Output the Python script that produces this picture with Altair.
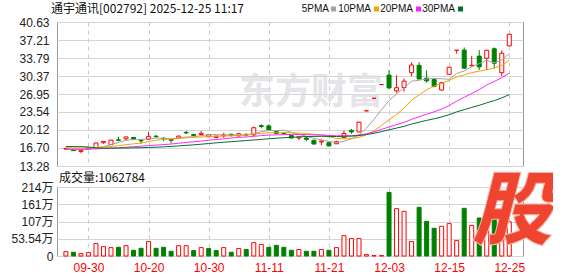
import altair as alt
import pandas as pd

# ---------------- data ----------------
dates = ["09-25", "09-26", "09-29", "09-30", "10-09", "10-10", "10-13", "10-14", "10-15", "10-16",
         "10-17", "10-20", "10-21", "10-22", "10-23", "10-24", "10-27", "10-28", "10-29", "10-30",
         "10-31", "11-03", "11-04", "11-05", "11-06", "11-07", "11-10", "11-11", "11-12", "11-13",
         "11-14", "11-17", "11-18", "11-19", "11-20", "11-21", "11-24", "11-25", "11-26", "11-27",
         "11-28", "12-01", "12-02", "12-03", "12-04", "12-05", "12-08", "12-09", "12-10", "12-11",
         "12-12", "12-15", "12-16", "12-17", "12-18", "12-19", "12-22", "12-23", "12-24", "12-25"]

opens = [16.50, 16.40, 16.05, 16.50, 16.72, 17.70, 17.35, 18.25, 18.45, 18.70,
         18.15, 18.35, 18.95, 18.55, 18.35, 18.55, 19.65, 19.25, 19.25, 18.85,
         18.70, 19.00, 19.30, 19.00, 19.30, 19.20, 20.95, 20.90, 19.80, 19.50,
         19.05, 18.60, 18.60, 18.15, 17.85, 17.70, 17.50, 18.70, 20.05, 19.75,
         23.76, 26.14, 28.75, 30.55, 27.55, 28.20, 31.00, 32.40, 29.95, 29.70,
         27.70, 30.70, 35.26, 35.30, 32.30, 34.15, 33.75, 35.55, 31.00, 36.10]
closes = [16.62, 16.20, 16.20, 16.75, 17.65, 17.95, 18.20, 18.15, 18.80, 18.40,
          18.05, 18.85, 18.85, 18.45, 18.15, 18.95, 19.55, 19.05, 19.50, 19.20,
          18.95, 19.20, 19.05, 19.40, 19.15, 20.55, 20.80, 20.15, 19.45, 19.45,
          18.60, 18.80, 18.35, 17.45, 18.00, 17.10, 17.90, 19.45, 19.75, 21.60,
          23.76, 26.14, 28.75, 28.10, 28.15, 29.40, 32.45, 29.80, 29.45, 28.40,
          29.10, 32.05, 35.26, 31.85, 32.40, 32.10, 35.25, 32.80, 34.70, 38.30]
highs = [16.75, 16.50, 16.25, 16.85, 17.70, 18.00, 18.25, 18.85, 18.85, 18.80,
         18.45, 19.80, 19.15, 18.75, 18.40, 19.10, 19.95, 19.35, 19.90, 19.30,
         19.00, 19.60, 19.40, 19.60, 19.45, 20.75, 21.20, 21.20, 19.90, 19.70,
         19.15, 18.85, 18.80, 18.30, 18.30, 17.80, 18.10, 19.95, 20.30, 21.70,
         23.76, 26.14, 28.75, 31.50, 30.50, 29.90, 33.00, 33.00, 31.45, 29.80,
         29.20, 32.10, 35.26, 35.80, 34.20, 35.30, 35.30, 35.80, 35.25, 38.30]
lows = [16.40, 16.15, 15.70, 16.40, 16.60, 17.50, 17.30, 18.00, 18.20, 18.25,
        17.50, 18.25, 18.65, 18.00, 17.55, 18.45, 19.40, 18.95, 19.00, 18.80,
        18.50, 18.66, 18.90, 18.90, 18.90, 18.90, 20.44, 19.93, 19.30, 19.30,
        18.50, 18.15, 18.00, 17.35, 17.20, 17.00, 17.45, 18.60, 19.40, 19.70,
        23.76, 26.14, 28.75, 28.00, 27.20, 27.40, 30.35, 29.70, 29.10, 28.20,
        27.60, 30.60, 34.60, 31.80, 32.20, 31.50, 31.50, 31.85, 30.40, 36.05]
volumes = [13.6, 11.5, 7.4, 10.5, 38.5, 29.0, 26.0, 27.0, 32.0, 17.7,
           24.0, 44.7, 24.0, 27.0, 14.6, 32.0, 32.0, 16.8, 26.0, 23.0,
           16.8, 26.0, 11.5, 23.0, 20.0, 41.6, 36.0, 27.0, 33.0, 27.0,
           17.7, 20.0, 14.6, 14.6, 20.0, 17.7, 26.0, 63.0, 54.0, 54.0,
           4.3, 1.3, 1.3, 197.5, 147.0, 138.6, 44.7, 151.0, 107.6, 86.0,
           92.0, 100.5, 47.8, 148.0, 95.0, 118.0, 128.0, 120.0, 141.0, 106.28]

ma5 = [16.55, 16.45, 16.40, 16.48, 16.68, 16.95, 17.35, 17.74, 18.15, 18.30,
       18.32, 18.45, 18.59, 18.52, 18.47, 18.65, 18.79, 18.83, 19.04, 19.25,
       19.25, 19.18, 19.18, 19.16, 19.15, 19.47, 19.79, 20.01, 20.02, 20.08,
       19.69, 19.29, 18.93, 18.53, 18.24, 17.94, 17.76, 17.98, 18.44, 19.16,
       20.49, 22.14, 24.00, 25.67, 26.97, 28.12, 29.38, 29.57, 29.82, 29.90,
       29.84, 29.76, 30.85, 31.33, 32.13, 32.73, 33.37, 32.88, 33.45, 34.63]
ma10 = [16.75, 16.72, 16.70, 16.72, 16.78, 16.88, 17.00, 17.15, 17.32, 17.49,
        17.64, 17.90, 18.17, 18.34, 18.39, 18.49, 18.62, 18.71, 18.78, 18.86,
        18.95, 18.99, 19.01, 19.10, 19.20, 19.36, 19.49, 19.60, 19.59, 19.62,
        19.58, 19.54, 19.47, 19.28, 19.16, 18.82, 18.53, 18.46, 18.49, 18.70,
        19.22, 19.95, 20.99, 22.06, 23.08, 24.31, 25.76, 26.79, 27.76, 28.44,
        28.97, 29.56, 30.21, 30.58, 31.02, 31.29, 31.57, 31.87, 32.39, 33.38]
ma20 = [16.45, 16.45, 16.47, 16.50, 16.55, 16.60, 16.65, 16.75, 16.85, 16.95,
        17.05, 17.15, 17.25, 17.35, 17.45, 17.60, 17.75, 17.88, 18.02, 18.18,
        18.29, 18.44, 18.59, 18.72, 18.79, 18.92, 19.05, 19.15, 19.19, 19.24,
        19.27, 19.26, 19.24, 19.19, 19.18, 19.09, 19.01, 19.03, 19.04, 19.16,
        19.40, 19.75, 20.23, 20.70, 21.12, 21.57, 22.14, 22.62, 23.12, 23.57,
        24.09, 24.76, 25.60, 26.32, 27.04, 27.79, 28.66, 29.33, 30.07, 30.91]
ma30 = [16.98, 16.97, 16.95, 16.90, 16.70, 16.68, 16.68, 16.68, 16.70, 16.72,
        16.75, 16.80, 16.85, 16.92, 17.00, 17.10, 17.20, 17.30, 17.42, 17.55,
        17.68, 17.80, 17.90, 18.00, 18.12, 18.22, 18.33, 18.45, 18.55, 18.66,
        18.72, 18.81, 18.88, 18.90, 18.92, 18.89, 18.88, 18.92, 18.95, 19.06,
        19.25, 19.49, 19.82, 20.15, 20.48, 20.82, 21.25, 21.61, 21.94, 22.25,
        22.59, 23.02, 23.56, 23.97, 24.41, 24.80, 25.28, 25.70, 26.21, 26.84]

tick_dates = ["09-30", "10-20", "10-30", "11-11", "11-21", "12-03", "12-15", "12-25"]
price_ticks = [13.28, 16.70, 20.12, 23.54, 26.95, 30.37, 33.79, 37.21, 40.63]
vol_ticks = [0, 53.54, 107.08, 160.62, 214.16]
vol_tick_labels = ["0", "53.54万", "107万", "161万", "214万"]
ma_names = ["5PMA", "10PMA", "20PMA", "30PMA"]
ma_colors = ["#a3a3a3", "#f5a300", "#ff22ff", "#00702a"]
title_text = "通宇通讯[002792] 2025-12-25 11:17"
volume_text = "成交量:1062784"
watermark_text = "东方财富"
logo_text = "股"

# ---------------- tables ----------------
n = len(dates)
rec = []
for i in range(n):
    cu = closes[i] >= opens[i]
    prev = closes[i - 1] if i > 0 else opens[i]
    vu = closes[i] > prev or (closes[i] == prev and cu)
    rec.append({"i": i, "date": dates[i], "open": opens[i], "close": closes[i],
                "high": highs[i], "low": lows[i], "vol": volumes[i],
                "cdir": "up" if cu else "down", "vdir": "up" if vu else "down"})
df = pd.DataFrame(rec)
ma_series = [ma5, ma10, ma20, ma30]

tick_idx = [dates.index(d) for d in tick_dates]
dates_js = "[" + ",".join("'" + d + "'" for d in dates) + "]"
vol_js = "[" + ",".join("'" + s + "'" for s in vol_tick_labels) + "]"

FONT = "Liberation Sans, Noto Sans CJK SC"
CJK = "Noto Sans CJK SC"
RED, GREEN = "#ff0000", "#008000"
W, H1, H2 = 466, 144, 69

x_scale = alt.Scale(domain=[-0.52, 60.16], nice=False, zero=False)
x_top = alt.X("i:Q", scale=x_scale,
              axis=alt.Axis(values=tick_idx, labels=False, ticks=False, domain=False,
                            grid=True, gridDash=[4, 4], gridColor="#c8c8c8", title=None))
x_bot = alt.X("i:Q", scale=x_scale,
              axis=alt.Axis(values=tick_idx, labelExpr=dates_js + "[round(datum.value)]",
                            ticks=False, domain=False, grid=True, gridDash=[4, 4],
                            gridColor="#c8c8c8", labelColor=RED, labelPadding=6,
                            labelFlush=False, labelOverlap=False, title=None))
p_scale = alt.Scale(domain=[13.28, 40.63], nice=False, zero=False)
p_axis = alt.Axis(values=price_ticks, format=".2f", ticks=False, domain=False, grid=True,
                  gridColor="#d4d4d4", labelPadding=8, labelOverlap=False, labelFlush=False,
                  title=None)

fill_scale = alt.Scale(domain=["up", "down"], range=["#ffffff", GREEN])
stroke_scale = alt.Scale(domain=["up", "down"], range=[RED, GREEN])

base = alt.Chart(df)
wicks = base.mark_rule(strokeWidth=1).encode(
    x=x_top, y=alt.Y("low:Q", scale=p_scale, axis=p_axis), y2="high:Q",
    stroke=alt.Stroke("cdir:N", scale=stroke_scale, legend=None))
bodies = base.mark_bar(size=4, strokeWidth=1).encode(
    x=x_top, y=alt.Y("open:Q", scale=p_scale, axis=p_axis), y2="close:Q",
    fill=alt.Fill("cdir:N", scale=fill_scale, legend=None),
    stroke=alt.Stroke("cdir:N", scale=stroke_scale, legend=None))

ma_layers = []
for name, vals, col in zip(ma_names, ma_series, ma_colors):
    mdf = pd.DataFrame({"i": list(range(n)), "v": vals})
    ma_layers.append(alt.Chart(mdf).mark_line(strokeWidth=1, color=col).encode(
        x=x_top, y=alt.Y("v:Q", scale=p_scale, axis=p_axis)))

one = pd.DataFrame({"t": [0]})
anchor = alt.Chart(one).mark_rule(opacity=0, strokeWidth=0).encode(
    x=alt.value(-56), y=alt.value(-21), y2=alt.value(-21))
watermark = alt.Chart(one).mark_text(
    text=watermark_text, font=CJK, fontSize=36, fontWeight="bold", color="#dcdce2",
    opacity=0.75, align="center", baseline="middle").encode(x=alt.value(254), y=alt.value(71))
title = alt.Chart(one).mark_text(
    text=title_text, font=CJK, fontSize=12, color="#111", align="left",
    baseline="middle").encode(x=alt.value(-6), y=alt.value(-13))

legend_layers = []
text_right = [272, 314, 356, 398]
square_x = [276.5, 319.5, 361.5, 403.5]
for name, col, tx, sx in zip(ma_names, ma_colors, text_right, square_x):
    legend_layers.append(alt.Chart(one).mark_text(
        text=name, font="Liberation Sans", fontSize=10, color="#111", align="right",
        baseline="middle").encode(x=alt.value(tx), y=alt.value(-13)))
    legend_layers.append(alt.Chart(one).mark_square(
        size=25, color=col, opacity=1, filled=True).encode(x=alt.value(sx), y=alt.value(-13)))

top = alt.layer(anchor, watermark, wicks, bodies, *ma_layers, title, *legend_layers).properties(
    width=W, height=H1)

v_axis = alt.Axis(values=vol_ticks, labelExpr=vol_js + "[round(datum.value / 53.54)]",
                  ticks=False, domain=False, grid=True, gridColor="#d4d4d4", labelPadding=4,
                  labelOverlap=False, labelFlush=False, title=None)
vbars = base.mark_bar(size=4, strokeWidth=1).encode(
    x=x_bot, y=alt.Y("vol:Q", scale=alt.Scale(domain=[0, 214.16], nice=False), axis=v_axis),
    fill=alt.Fill("vdir:N", scale=fill_scale, legend=None),
    stroke=alt.Stroke("vdir:N", scale=stroke_scale, legend=None))
vtitle = alt.Chart(one).mark_text(
    text=volume_text, font=CJK, fontSize=12, color="#111", align="left",
    baseline="middle").encode(x=alt.value(2), y=alt.value(-9))
logo = alt.Chart(one).mark_text(
    text=logo_text, font=CJK, fontSize=80, fontWeight=900, fontStyle="italic",
    color="#ee4430", stroke="#f7b3a6", strokeWidth=1, align="center",
    baseline="middle").encode(x=alt.value(455), y=alt.value(27))

bottom = alt.layer(vbars, vtitle, logo).properties(width=W, height=H2)

chart = alt.vconcat(top, bottom, spacing=21, bounds="flush").properties(
    padding=0
).configure_view(stroke="#999999").configure_axis(
    labelFont=FONT, labelFontSize=12, labelColor="#222222"
)

chart.save("out.html", embed_options={"renderer": "svg", "actions": False})
